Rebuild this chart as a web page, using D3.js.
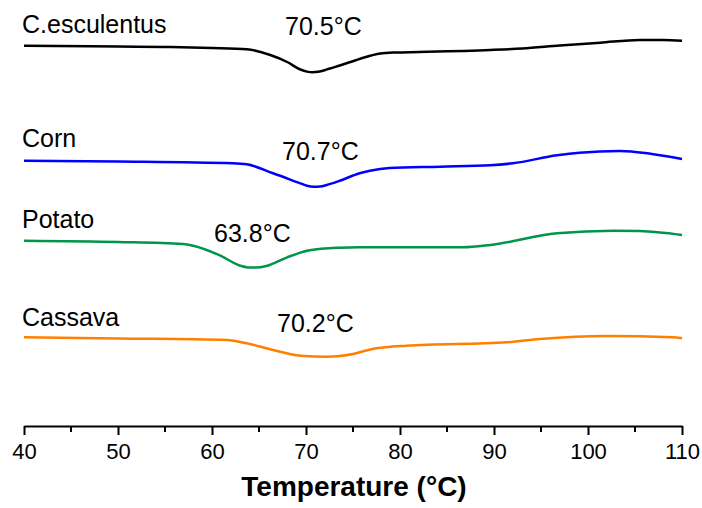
<!DOCTYPE html>
<html>
<head>
<meta charset="utf-8">
<script src="https://cdn.jsdelivr.net/npm/d3@7"></script>
<style>
  body { margin: 0; background: #fff; }
  svg text { font-family: Arial, "Liberation Sans", sans-serif; }
</style>
</head>
<body>
<div id="chart"></div>
<script>
// DSC thermograms, heat flow in arbitrary units (curves stacked with offsets)
const esculentusT = [40, 50, 55, 60, 63.7, 66.2, 68, 69.4, 70.1, 70.7, 71.3, 72, 72.55, 73.6, 75.7, 77.9, 79.5, 82, 89.6, 93, 97, 101.3, 105.5, 108, 110];
const esculentusV = [38.03, 37.95, 37.9, 37.8, 37.67, 37.1, 36.4, 35.65, 35.44, 35.38, 35.42, 35.58, 35.75, 36.05, 36.7, 37.25, 37.35, 37.4, 37.6, 37.75, 38.05, 38.33, 38.6, 38.6, 38.53];

const cornT = [40, 50, 62.2, 63.7, 66.5, 69.4, 70.1, 70.8, 71.5, 72.2, 73.6, 75.7, 76.8, 78.9, 84.3, 89.6, 92, 96.7, 99.1, 103.4, 104.8, 110];
const cornV = [26.53, 26.45, 26.27, 26.17, 25.27, 24.27, 24.03, 23.93, 23.95, 24.1, 24.53, 25.27, 25.53, 25.8, 25.93, 26.07, 26.27, 27.07, 27.33, 27.5, 27.43, 26.7];

const potatoT = [40, 50, 56.9, 58, 60.9, 63, 63.8, 64.5, 65.9, 68, 70.4, 73.6, 75.7, 77.1, 86.7, 89.6, 96.7, 102.7, 105.5, 110];
const potatoV = [18.53, 18.4, 18.2, 18.03, 17.03, 16.03, 15.86, 15.84, 16.03, 16.87, 17.57, 17.83, 17.88, 17.87, 17.87, 18.1, 19.27, 19.53, 19.5, 19.1];

const cassavaT = [40, 50, 61.6, 63.7, 66.5, 69.4, 72.2, 73.6, 75, 76, 77.1, 78.5, 80.7, 91.4, 94.9, 102, 109, 110];
const cassavaV = [8.87, 8.75, 8.6, 8.27, 7.6, 7.03, 6.93, 7.0, 7.2, 7.45, 7.7, 7.88, 8.03, 8.37, 8.7, 9.0, 8.87, 8.77];

const seriesNames = ["C.esculentus", "Corn", "Potato", "Cassava"];
const seriesColors = ["#000000", "#0000ff", "#009548", "#ff7f00"];
const peakLabels = ["70.5°C", "70.7°C", "63.8°C", "70.2°C"];

const xTicks = [40, 50, 60, 70, 80, 90, 100, 110];
const xMinorTicks = [45, 55, 65, 75, 85, 95, 105];

const width = 702, height = 508;
const margin = { top: 26, right: 20, bottom: 82, left: 24 };

const svg = d3.select("#chart")
    .append("svg")
    .attr("width", width)
    .attr("height", height);

const x = d3.scaleLinear()
    .domain([40, 110])
    .range([margin.left, width - margin.right]);

const y = d3.scaleLinear()
    .domain([0, 40])
    .range([height - margin.bottom, margin.top]);

const allT = [esculentusT, cornT, potatoT, cassavaT];
const allV = [esculentusV, cornV, potatoV, cassavaV];

const line = d3.line()
    .x(d => x(d[0]))
    .y(d => y(d[1]))
    .curve(d3.curveMonotoneX);

allT.forEach((ts, i) => {
    const pts = ts.map((t, j) => [t, allV[i][j]]);
    svg.append("path")
        .attr("d", line(pts))
        .attr("fill", "none")
        .attr("stroke", seriesColors[i])
        .attr("stroke-width", 2.5)
        .attr("stroke-linejoin", "round");
});

// series names and peak temperatures
const nameY = [33, 147, 228, 326];
const peakX = [285, 282, 214, 277];
const peakY = [35, 160, 241.5, 332];

seriesNames.forEach((n, i) => {
    svg.append("text")
        .attr("x", 22)
        .attr("y", nameY[i])
        .attr("font-size", 25)
        .text(n);
    svg.append("text")
        .attr("x", peakX[i])
        .attr("y", peakY[i])
        .attr("font-size", 25)
        .text(peakLabels[i]);
});

// x axis
const axisY = height - margin.bottom;
const xAxis = svg.append("g")
    .attr("transform", `translate(0,${axisY})`)
    .call(d3.axisBottom(x).tickValues(xTicks).tickSize(9).tickSizeOuter(0).tickPadding(8));

xAxis.select(".domain").attr("stroke-width", 2.2);
xAxis.selectAll(".tick line").attr("stroke-width", 2);
xAxis.selectAll(".tick text")
    .attr("font-size", 22)
    .attr("font-family", "Arial, 'Liberation Sans', sans-serif")
    .attr("fill", "#000");

svg.append("g")
    .selectAll("line")
    .data(xMinorTicks)
    .enter().append("line")
    .attr("x1", d => x(d))
    .attr("x2", d => x(d))
    .attr("y1", axisY)
    .attr("y2", axisY + 6)
    .attr("stroke", "#000")
    .attr("stroke-width", 2);

svg.append("text")
    .attr("x", (x(40) + x(110)) / 2 + 1)
    .attr("y", 496)
    .attr("text-anchor", "middle")
    .attr("font-size", 28)
    .attr("font-weight", "bold")
    .text("Temperature (°C)");
</script>
</body>
</html>
